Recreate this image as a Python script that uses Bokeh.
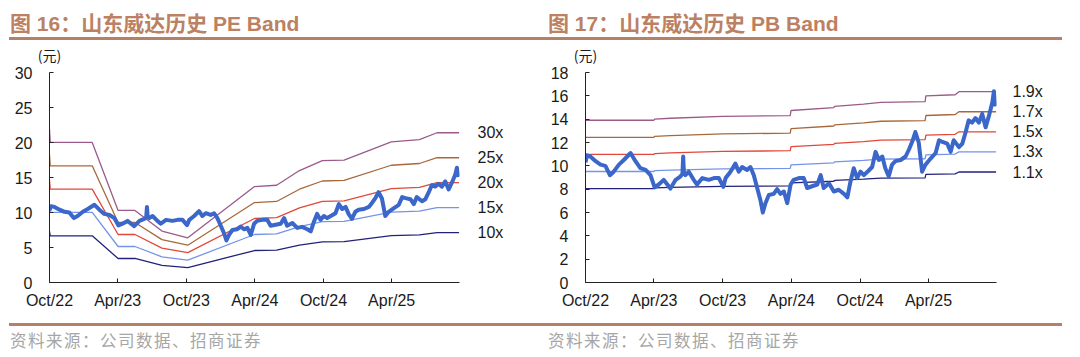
import pandas as pd
from bokeh.plotting import figure
from bokeh.layouts import row, column
from bokeh.models import (Range1d, FixedTicker, DatetimeTickFormatter, LinearAxis,
                          SingleIntervalTicker, Div)
from bokeh.embed import file_html
from bokeh.resources import INLINE

# ---------------- data ----------------
PRICE_DATES = [
    "2022-10-01", "2022-10-05", "2022-10-14", "2022-10-28", "2022-11-10", "2022-11-23",
    "2022-12-05", "2022-12-15", "2022-12-29", "2023-01-11", "2023-01-29", "2023-02-11",
    "2023-02-24", "2023-03-10", "2023-03-23", "2023-04-03", "2023-04-14", "2023-04-27",
    "2023-05-15", "2023-05-29", "2023-06-11", "2023-06-16", "2023-06-18", "2023-06-20",
    "2023-06-24", "2023-07-03", "2023-07-16", "2023-07-25", "2023-08-08", "2023-08-25",
    "2023-09-08", "2023-09-21", "2023-10-03", "2023-10-09", "2023-10-22", "2023-11-04",
    "2023-11-13", "2023-11-22", "2023-12-05", "2023-12-14", "2023-12-23", "2024-01-01",
    "2024-01-10", "2024-01-16", "2024-01-23", "2024-02-01", "2024-02-14", "2024-02-23",
    "2024-03-03", "2024-03-12", "2024-03-21", "2024-03-30", "2024-04-07", "2024-04-21",
    "2024-05-04", "2024-05-13", "2024-05-26", "2024-06-09", "2024-06-18", "2024-06-26",
    "2024-07-10", "2024-07-23", "2024-08-05", "2024-08-19", "2024-08-28", "2024-09-05",
    "2024-09-14", "2024-09-23", "2024-10-02", "2024-10-11", "2024-10-24", "2024-11-02",
    "2024-11-11", "2024-11-20", "2024-11-29", "2024-12-07", "2024-12-16", "2024-12-25",
    "2025-01-03", "2025-01-17", "2025-01-30", "2025-02-08", "2025-02-17", "2025-02-25",
    "2025-03-06", "2025-03-15", "2025-03-24", "2025-04-06", "2025-04-20", "2025-04-29",
    "2025-05-08", "2025-05-21", "2025-05-30", "2025-06-07", "2025-06-21", "2025-06-30",
    "2025-07-09", "2025-07-17", "2025-07-26", "2025-08-04", "2025-08-13", "2025-08-22",
    "2025-08-31", "2025-09-09", "2025-09-18", "2025-09-22", "2025-09-25", "2025-09-27",
]
PRICE_VALUES = [
    10.3, 10.9, 10.8, 10.4, 10.1, 10.0,
    9.2, 9.5, 10.1, 10.5, 11.1, 10.4,
    9.8, 9.65, 9.2, 8.15, 8.4, 8.8,
    8.05, 8.8, 9.1, 9.3, 10.8, 9.4,
    9.2, 9.5, 8.8, 8.4, 8.95, 8.8,
    8.95, 8.95, 8.2, 8.95, 9.5, 10.2,
    9.5, 9.9, 9.65, 9.9, 9.2, 8.1,
    7.0, 6.0, 6.8, 7.5, 7.6, 8.0,
    7.6, 7.8, 6.8, 8.4, 8.8, 8.95,
    8.95, 8.1, 8.25, 8.4, 9.2, 8.1,
    8.5, 7.8, 7.95, 7.6, 7.3, 8.6,
    9.8, 8.95, 9.5, 9.2, 9.6, 9.9,
    11.2, 10.5, 10.8, 9.8, 9.1, 10.1,
    10.4, 10.5, 10.8, 11.4, 12.1, 12.9,
    12.0, 9.5, 10.1, 10.6, 11.1, 12.2,
    12.05, 11.9, 11.2, 12.2, 11.6, 11.9,
    12.9, 13.9, 13.7, 14.1, 13.7, 14.45,
    13.3, 14.3, 15.45, 16.4, 15.45, 15.1,
]

# EPS used for the PE band
PE_DATES = [
    "2022-10-01", "2022-10-03", "2023-01-23", "2023-04-02", "2023-05-17", "2023-07-28",
    "2023-10-05", "2024-03-31", "2024-05-29", "2024-07-29", "2024-09-28", "2024-11-25",
    "2025-03-31", "2025-06-14", "2025-07-31", "2025-09-28",
]
PE_EPS = [
    0.73, 0.667, 0.667, 0.343, 0.343, 0.245,
    0.213, 0.457, 0.463, 0.533, 0.58, 0.583,
    0.67, 0.68, 0.713, 0.713,
]
PE_MULTIPLES = [30, 25, 20, 15, 10]
PE_LABELS = ["30x", "25x", "20x", "15x", "10x"]

# BVPS used for the PB band
PB_DATES = [
    "2022-10-01", "2023-04-01", "2023-04-03", "2023-05-15", "2023-10-01", "2024-03-29",
    "2024-03-31", "2024-07-23", "2024-07-25", "2024-10-10", "2024-11-25", "2025-03-23",
    "2025-03-25", "2025-06-11", "2025-06-21", "2025-09-28",
]
PB_BVPS = [
    7.32, 7.32, 7.37, 7.41, 7.49, 7.53,
    7.76, 7.89, 7.95, 8.05, 8.13, 8.16,
    8.42, 8.47, 8.61, 8.61,
]
PB_MULTIPLES = [1.9, 1.7, 1.5, 1.3, 1.1]
PB_LABELS = ["1.9x", "1.7x", "1.5x", "1.3x", "1.1x"]

X_TICKS = ["2022-10-01", "2023-04-01", "2023-10-01", "2024-04-01", "2024-10-01", "2025-04-01"]
X_START = "2022-10-01"
X_END = "2025-09-29"

TITLES = ["图 16：山东威达历史 PE Band", "图 17：山东威达历史 PB Band"]
SOURCE = "资料来源：公司数据、招商证券"
UNIT = "(元)"

# ---------------- style ----------------
BAND_COLORS = ["#9A5A8A", "#A8683C", "#E2483A", "#7494EA", "#22227A"]
PRICE_COLOR = "#3A67C9"
TITLE_COLOR = "#BC8062"
RULE_COLOR = "#B5806A"
SRC_COLOR = "#A6A6A6"
LATIN = "Liberation Sans"
CJK = "Noto Sans CJK SC"

W = 540
HEAD_H = 41
FOOT_H = 39
CHART_H = 357 - HEAD_H - FOOT_H


def ms(dates):
    return [float(v) for v in (pd.to_datetime(dates).astype("int64") // 10**6)]


def header(title, text_x, rule_l, rule_r):
    html = (
        f'<div style="position:relative;width:{W}px;height:{HEAD_H}px;">'
        f'<div style="position:absolute;left:{text_x}px;top:11px;line-height:26px;'
        f"font-family:'{LATIN}','{CJK}',sans-serif;font-weight:bold;font-size:21px;"
        f'color:{TITLE_COLOR};white-space:nowrap;">{title}</div>'
        f'<div style="position:absolute;left:{rule_l}px;width:{rule_r - rule_l}px;top:37px;'
        f'height:3px;background:{RULE_COLOR};"></div></div>'
    )
    return Div(text=html, width=W, height=HEAD_H, margin=(0, 0, 0, 0))


def footer(text_x, rule_l, rule_r):
    html = (
        f'<div style="position:relative;width:{W}px;height:{FOOT_H}px;">'
        f'<div style="position:absolute;left:{rule_l}px;width:{rule_r - rule_l}px;top:5px;'
        f'height:3px;background:{RULE_COLOR};"></div>'
        f'<div style="position:absolute;left:{text_x}px;top:11px;line-height:22px;'
        f"font-family:'{CJK}',sans-serif;font-size:16.5px;letter-spacing:1.5px;color:{SRC_COLOR};"
        f'white-space:nowrap;">{SOURCE}</div></div>'
    )
    return Div(text=html, width=W, height=FOOT_H, margin=(0, 0, 0, 0))


def chart(ymax, ystep, band_dates, base, mults, labels, border_left, border_right, text_off):
    p = figure(width=W, height=CHART_H, x_axis_type="datetime",
               output_backend="svg", toolbar_location=None, title=None,
               x_range=Range1d(pd.Timestamp(X_START), pd.Timestamp(X_END)),
               y_range=Range1d(0, ymax),
               min_border_left=border_left, min_border_right=border_right,
               min_border_top=70 - HEAD_H, min_border_bottom=(357 - FOOT_H) - 282)
    p.outline_line_color = None
    p.xgrid.visible = False
    p.ygrid.visible = False
    p.background_fill_color = "white"
    p.border_fill_color = "white"

    bd = pd.to_datetime(band_dates)
    for m, c in zip(mults, BAND_COLORS):
        p.line(bd, [m * b for b in base], line_color=c, line_width=1.3)
    p.line(pd.to_datetime(PRICE_DATES), PRICE_VALUES, line_color=PRICE_COLOR,
           line_width=4, line_join="round")

    xa = p.xaxis[0]
    xa.ticker = FixedTicker(ticks=ms(X_TICKS))
    xa.formatter = DatetimeTickFormatter(months="%b/%y", days="%b/%y", years="%b/%y",
                                         hours="%b/%y", minutes="%b/%y")
    ya = p.yaxis[0]
    ya.ticker = SingleIntervalTicker(interval=ystep, num_minor_ticks=0)
    for ax in (xa, ya):
        ax.axis_line_color = "#222222"
        ax.axis_line_width = 1
        ax.major_tick_in = 4
        ax.major_tick_out = 0
        ax.major_tick_line_color = "#222222"
        ax.minor_tick_line_color = None
        ax.major_label_text_font = LATIN
        ax.major_label_text_font_size = "16px"
        ax.major_label_text_color = "#1a1a1a"
    xa.major_label_standoff = 9
    ya.major_label_standoff = 17

    # band multiple labels on a right-hand axis at the band end values
    ends = [m * base[-1] for m in mults]
    ra = LinearAxis(ticker=FixedTicker(ticks=ends),
                    major_label_overrides={e: lab for e, lab in zip(ends, labels)})
    ra.axis_line_color = None
    ra.major_tick_line_color = None
    ra.minor_tick_line_color = None
    ra.major_tick_in = 0
    ra.major_tick_out = 0
    ra.major_label_standoff = text_off
    ra.major_label_text_font = LATIN
    ra.major_label_text_font_size = "16px"
    ra.major_label_text_color = "#1a1a1a"
    p.add_layout(ra, "right")

    # unit label on a top axis at the start of the x range
    start_ms = ms([X_START])[0]
    ta = LinearAxis(ticker=FixedTicker(ticks=[start_ms]),
                    major_label_overrides={start_ms: UNIT})
    ta.axis_line_color = None
    ta.major_tick_line_color = None
    ta.minor_tick_line_color = None
    ta.major_tick_in = 0
    ta.major_tick_out = 0
    ta.major_label_standoff = 8
    ta.major_label_text_font = CJK
    ta.major_label_text_font_size = "14px"
    ta.major_label_text_color = "#1a1a1a"
    p.add_layout(ta, "above")
    return p


left = column(
    header(TITLES[0], 10, 9, 540),
    chart(30, 5, PE_DATES, PE_EPS, PE_MULTIPLES, PE_LABELS, 49, 81, 18),
    footer(10, 9, 540),
    spacing=0,
)
right = column(
    header(TITLES[1], 8, 0, 522),
    chart(18, 2, PB_DATES, PB_BVPS, PB_MULTIPLES, PB_LABELS, 45, 84, 16),
    footer(8, 0, 522),
    spacing=0,
)

layout = row(left, right, spacing=0)
open("out.html", "w").write(file_html(layout, INLINE))
